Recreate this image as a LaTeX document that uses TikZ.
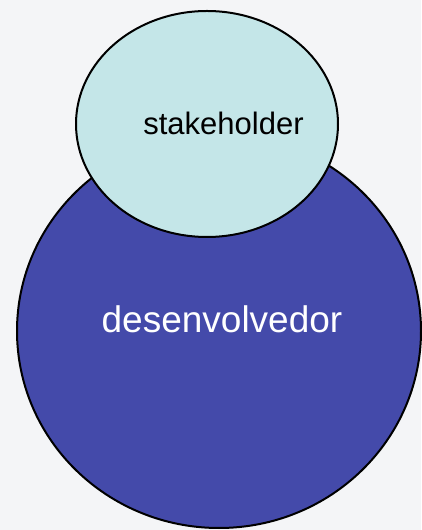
\documentclass[tikz,border=0pt]{standalone}
\usepackage{fontspec}
\setmainfont{Liberation Sans}
\usetikzlibrary{shapes.geometric}
\definecolor{bgcol}{RGB}{244,245,247}
\definecolor{devcol}{RGB}{68,74,170}
\definecolor{stakecol}{RGB}{196,230,232}
\tikzset{
  blob/.style={ellipse, draw=black, line width=2pt, inner sep=0pt},
  lbl/.style={inner sep=0pt, anchor=base},
}
\begin{document}
\begin{tikzpicture}[x=1pt,y=1pt]
\fill[bgcol] (0,0) rectangle (421,530);
\useasboundingbox (0,0) rectangle (421,530);
\node[blob, fill=devcol, minimum width=404pt, minimum height=394pt] (dev) at (219,199) {};
\node[blob, fill=stakecol, minimum width=262pt, minimum height=226pt] (stake) at (207,406) {};
\node[lbl, font=\fontsize{31}{36}\selectfont, text=black] (stxt) at (223.5,395) {stakeholder};
\node[lbl, font=\fontsize{37}{42}\selectfont, text=white] (dtxt) at (222,197) {desenvolvedor};
\end{tikzpicture}
\end{document}
